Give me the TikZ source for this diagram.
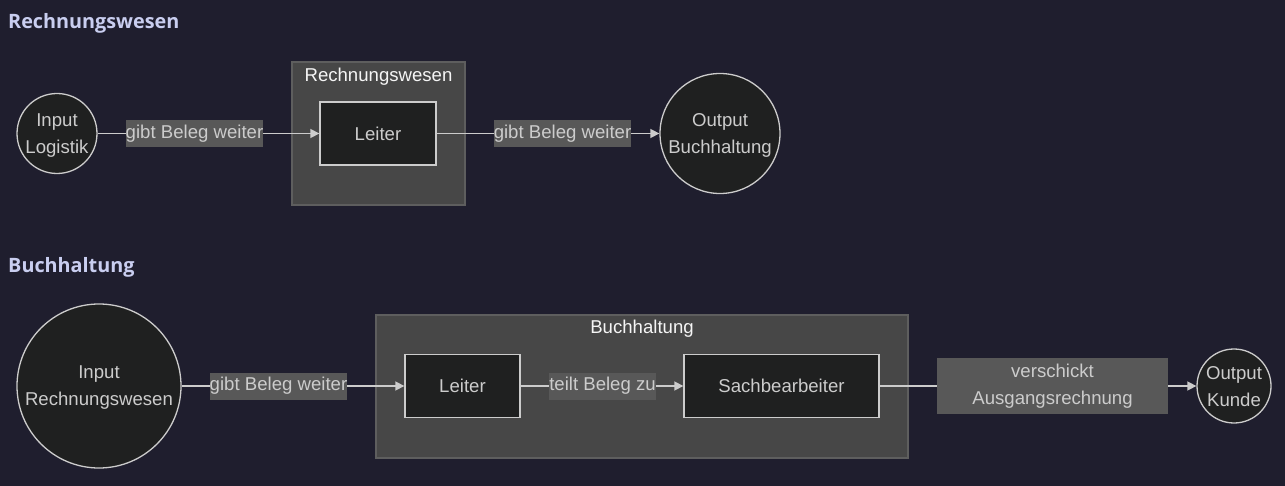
\documentclass[tikz,border=0pt]{standalone}
\usepackage{fontspec}
\setmainfont{Liberation Sans}
\newfontfamily\headfont{Open Sans}
\usetikzlibrary{arrows.meta,shapes.geometric}
\definecolor{bg}{HTML}{1F1E2E}
\definecolor{headc}{HTML}{C9CEF0}
\definecolor{sgfill}{HTML}{474747}
\definecolor{sgline}{HTML}{5E5E5E}
\definecolor{nodefill}{HTML}{1F2020}
\definecolor{nodeline}{HTML}{CCCCCC}
\definecolor{lblfill}{HTML}{585858}
\definecolor{txt}{HTML}{CCCCCC}
\tikzset{
  heading/.style={anchor=west,text=headc,font=\headfont\bfseries\fontsize{19.8}{24}\selectfont,inner sep=0},
  sg/.style={draw=sgline,fill=sgfill,line width=1.2pt},
  sgtitle/.style={text=white!92!gray,font=\fontsize{18.6}{22}\selectfont,inner sep=0},
  boxnode/.style={draw=nodeline,fill=nodefill,line width=1.3pt,text=txt,font=\fontsize{18.6}{22}\selectfont,minimum height=63pt,inner sep=0},
  circnode/.style={circle,draw=nodeline,fill=nodefill,line width=1.3pt,inner sep=0},
  circtext/.style={text=txt,font=\fontsize{18.6}{27}\selectfont,align=center,inner sep=0},
  lbl/.style={fill=lblfill,text=txt,font=\fontsize{18.6}{22}\selectfont,inner sep=0,minimum height=27pt,align=center},
  conn/.style={draw=nodeline,line width=1.5pt},
  arr/.style={conn,-{Triangle[length=9pt,width=9pt]}},
}
\begin{document}
\begin{tikzpicture}[x=1pt,y=-1pt]
\path[fill=bg] (0,0) rectangle (1285,486);
\useasboundingbox (0,0) rectangle (1285,486);
% top section
\node[heading] (h1) at (8,23) {Rechnungswesen};
\path[sg] (292,62) rectangle (465,205);
\node[sgtitle] (t1) at (378.5,77) {Rechnungswesen};
\node[circnode,minimum size=80pt] (il) at (57,133.5) {};
\node[circtext] (ilt) at (57,135.5) {Input\\Logistik};
\node[boxnode,minimum width=116pt] (l1) at (378,133.5) {Leiter};
\node[circnode,minimum size=120pt] (ob) at (720,133.5) {};
\node[circtext] (obt) at (720,135.5) {Output\\Buchhaltung};
\node[lbl,minimum width=137pt] (e1) at (194.5,133.5) {gibt Beleg weiter};
\node[lbl,minimum width=137pt] (e2) at (562.5,133.5) {gibt Beleg weiter};
\draw[conn] (il.east) -- (e1.west);
\draw[arr] (e1.east) -- (l1.west);
\draw[conn] (l1.east) -- (e2.west);
\draw[arr] (e2.east) -- (ob.west);
% bottom section
\node[heading] (h2) at (8,267) {Buchhaltung};
\path[sg] (376,315) rectangle (908,458);
\node[sgtitle] (t2) at (642,329) {Buchhaltung};
\node[circnode,minimum size=164pt] (ir) at (99,386) {};
\node[circtext] (irt) at (99,387.5) {Input\\Rechnungswesen};
\node[boxnode,minimum width=115pt] (l2) at (462.5,386) {Leiter};
\node[boxnode,minimum width=195pt] (sb) at (781.5,386) {Sachbearbeiter};
\node[circnode,minimum size=74pt] (ok) at (1234,386) {};
\node[circtext] (okt) at (1234,387) {Output\\Kunde};
\node[lbl,minimum width=137pt] (e3) at (278.5,386) {gibt Beleg weiter};
\node[lbl,minimum width=105pt] (e4) at (602.5,386) {teilt Beleg zu};
\node[lbl,minimum width=231pt,minimum height=56pt,font=\fontsize{18.6}{27}\selectfont] (e5) at (1052.5,386) {verschickt\\Ausgangsrechnung};
\draw[conn] (ir.east) -- (e3.west);
\draw[arr] (e3.east) -- (l2.west);
\draw[conn] (l2.east) -- (e4.west);
\draw[arr] (e4.east) -- (sb.west);
\draw[conn] (sb.east) -- (e5.west);
\draw[arr] (e5.east) -- (ok.west);
\end{tikzpicture}
\end{document}
